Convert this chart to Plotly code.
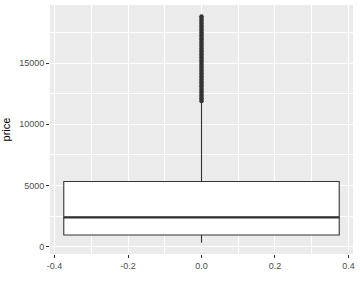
import plotly.graph_objects as go

# Box statistics of price
q1 = [950]
median = [2401]
q3 = [5324]
lower_whisker = [326]
upper_whisker = [11883]
box_x = [0]

# Outlier prices (dense band above upper whisker)
outliers = [11886, 12000, 12120, 12240, 12360, 12480, 12600, 12720, 12840, 12960,
            13080, 13200, 13320, 13440, 13560, 13680, 13800, 13920, 14040, 14160,
            14280, 14400, 14520, 14640, 14760, 14880, 15000, 15120, 15240, 15360,
            15480, 15600, 15720, 15840, 15960, 16080, 16200, 16320, 16440, 16560,
            16680, 16800, 16920, 17040, 17160, 17280, 17400, 17520, 17640, 17760,
            17880, 18000, 18120, 18240, 18360, 18480, 18600, 18720, 18823]

x_ticks = [-0.4, -0.2, 0.0, 0.2, 0.4]
x_tick_labels = ["-0.4", "-0.2", "0.0", "0.2", "0.4"]
y_ticks = [0, 5000, 10000, 15000]
y_tick_labels = ["0", "5000", "10000", "15000"]

BOX_W = 0.75
DARK = "#333333"

fig = go.Figure()
fig.add_trace(go.Box(
    x=box_x, q1=q1, median=median, q3=q3,
    lowerfence=lower_whisker, upperfence=upper_whisker,
    width=BOX_W, whiskerwidth=0, boxpoints=False,
    fillcolor="white", line=dict(color=DARK, width=1.1),
    showlegend=False, hoverinfo="skip",
))
fig.add_trace(go.Scatter(
    x=[box_x[0] - BOX_W / 2, box_x[0] + BOX_W / 2], y=[median[0], median[0]],
    mode="lines", line=dict(color=DARK, width=2.2), showlegend=False,
))
fig.add_trace(go.Scatter(
    x=[box_x[0]] * len(outliers), y=outliers, mode="markers",
    marker=dict(color=DARK, size=4.3, line=dict(width=0)), showlegend=False,
))

fig.update_layout(
    width=360, height=288,
    margin=dict(l=49, r=5, t=5, b=34),
    paper_bgcolor="white", plot_bgcolor="#EBEBEB",
    font=dict(family="Liberation Sans, Arial, sans-serif"),
)
fig.update_xaxes(
    range=[-0.4125, 0.4125], tickvals=x_ticks, ticktext=x_tick_labels,
    showgrid=True, gridcolor="white", gridwidth=1.1, zeroline=False,
    ticks="outside", ticklen=3, tickwidth=1.1, tickcolor=DARK,
    tickfont=dict(size=9, color="#4D4D4D"), showline=False,
    minor=dict(tickvals=[-0.3, -0.1, 0.1, 0.3], showgrid=True, gridcolor="white", gridwidth=0.55, ticks=""),
)
fig.update_yaxes(
    range=[-599, 19748], tickvals=y_ticks, ticktext=y_tick_labels,
    showgrid=True, gridcolor="white", gridwidth=1.1, zeroline=False,
    ticks="outside", ticklen=3, tickwidth=1.1, tickcolor=DARK,
    tickfont=dict(size=9, color="#4D4D4D"), showline=False,
    minor=dict(tickvals=[2500, 7500, 12500, 17500], showgrid=True, gridcolor="white", gridwidth=0.55, ticks=""),
    title=dict(text="price", font=dict(size=11, color="black"), standoff=6),
)

fig.write_html("out.html")
